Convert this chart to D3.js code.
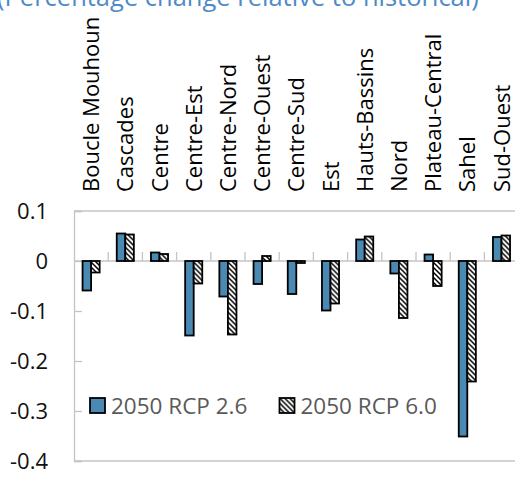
<!DOCTYPE html>
<html>
<head>
<meta charset="utf-8">
<script src="https://cdn.jsdelivr.net/npm/d3@7"></script>
<style>
  html, body { margin: 0; padding: 0; background: #fff; }
  svg { display: block; font-family: "Open Sans", "Noto Sans", sans-serif; }
</style>
</head>
<body>
<svg id="chart" width="515" height="481"></svg>
<script>
// Regions of Burkina Faso
const regions = [
  "Boucle Mouhoun", "Cascades", "Centre", "Centre-Est", "Centre-Nord",
  "Centre-Ouest", "Centre-Sud", "Est", "Hauts-Bassins", "Nord",
  "Plateau-Central", "Sahel", "Sud-Ouest"
];

// Percentage change relative to historical, 2050
const rcp26 = [-0.059, 0.055, 0.017, -0.149, -0.071, -0.046, -0.066, -0.099, 0.043, -0.025, 0.013, -0.351, 0.048];
const rcp60 = [-0.023, 0.053, 0.014, -0.045, -0.147, 0.010, -0.004, -0.085, 0.049, -0.114, -0.050, -0.241, 0.051];

const seriesNames = ["2050 RCP 2.6", "2050 RCP 6.0"];
const yTicks = [0.1, 0, -0.1, -0.2, -0.3, -0.4];
const titleText = "(Percentage change relative to historical)";

const svg = d3.select("#chart");

const plot = { left: 74, right: 518.6, top: 211, bottom: 461 };

const x0 = d3.scaleBand().domain(regions).range([plot.left, plot.right]).padding(0);
const x1 = d3.scaleBand().domain(seriesNames)
  .range([x0.bandwidth() * 0.25, x0.bandwidth() * 0.75]).padding(0);
const y = d3.scaleLinear().domain([-0.4, 0.1]).range([plot.bottom, plot.top]);

// Hatch pattern for the second series
const defs = svg.append("defs");
const pat = defs.append("pattern")
  .attr("id", "hatch")
  .attr("patternUnits", "userSpaceOnUse")
  .attr("width", 5).attr("height", 5);
pat.append("rect").attr("width", 5).attr("height", 5).attr("fill", "#fff");
pat.append("path")
  .attr("d", "M0,0 L5,5 M-1,4 L1,6 M4,-1 L6,1")
  .attr("stroke", "#000").attr("stroke-width", 1.5);

const fills = ["#4A89B2", "url(#hatch)"];

// Title (sits partly above the top edge)
svg.append("text")
  .attr("x", -3).attr("y", 6)
  .attr("font-size", 25.5)
  .attr("fill", "#4E8AC6")
  .text(titleText);

// Plot area frame
const frameColor = "#c4c4c4";
svg.append("line").attr("x1", plot.left).attr("x2", plot.right)
  .attr("y1", plot.top).attr("y2", plot.top).attr("stroke", frameColor).attr("stroke-width", 1.3);
svg.append("line").attr("x1", plot.left).attr("x2", plot.right)
  .attr("y1", plot.bottom).attr("y2", plot.bottom).attr("stroke", frameColor).attr("stroke-width", 1.3);

// Value axis with inward ticks
const yAxis = d3.axisLeft(y).tickValues(yTicks).tickSize(-8).tickPadding(26)
  .tickFormat(d => d === 0 ? "0" : d3.format(".1f")(d).replace("−", "-"));
const gy = svg.append("g").attr("transform", `translate(${plot.left},0)`).call(yAxis);
gy.select(".domain").attr("stroke", frameColor).attr("stroke-width", 1.3);
gy.selectAll(".tick line").attr("stroke", frameColor).attr("stroke-width", 1.3);
gy.selectAll(".tick text").attr("font-size", 22).attr("fill", "#111")
  .attr("font-family", "\"Open Sans\", sans-serif");

// Category axis along zero with ticks between categories
const xAxisG = svg.append("g").attr("transform", `translate(0,${y(0)})`);
xAxisG.append("line").attr("x1", plot.left).attr("x2", plot.right)
  .attr("stroke", frameColor).attr("stroke-width", 1.3);
xAxisG.selectAll("line.sep").data(regions.slice(1)).join("line")
  .attr("class", "sep")
  .attr("x1", d => x0(d)).attr("x2", d => x0(d))
  .attr("y1", 0).attr("y2", -9)
  .attr("stroke", frameColor).attr("stroke-width", 1.3);

// Category labels, rotated, above the plot
svg.append("g").selectAll("text").data(regions).join("text")
  .attr("transform", d => `translate(${x0(d) + x0.bandwidth() / 2 + 8},192) rotate(-90)`)
  .attr("font-size", 22)
  .attr("fill", "#000")
  .text(d => d);

// Bars
const data = regions.map((r, i) => ({ region: r, values: [rcp26[i], rcp60[i]] }));
const groups = svg.append("g").selectAll("g").data(data).join("g")
  .attr("transform", d => `translate(${x0(d.region)},0)`);
groups.selectAll("rect")
  .data(d => d.values.map((v, j) => ({ name: seriesNames[j], value: v, j })))
  .join("rect")
  .attr("x", d => x1(d.name))
  .attr("width", x1.bandwidth())
  .attr("y", d => y(Math.max(0, d.value)))
  .attr("height", d => Math.abs(y(d.value) - y(0)))
  .attr("fill", d => fills[d.j])
  .attr("stroke", "#000")
  .attr("stroke-width", 1.8);

// Legend
const legendPos = [90, 279.5];
const legend = svg.append("g");
seriesNames.forEach((name, j) => {
  const g = legend.append("g").attr("transform", `translate(${legendPos[j]},398)`);
  g.append("rect").attr("width", 15).attr("height", 15)
    .attr("fill", fills[j]).attr("stroke", "#000").attr("stroke-width", 1.8);
  g.append("text").attr("x", 21).attr("y", 15.5)
    .attr("font-size", 22.5).attr("fill", "#595959").text(name);
});
</script>
</body>
</html>
